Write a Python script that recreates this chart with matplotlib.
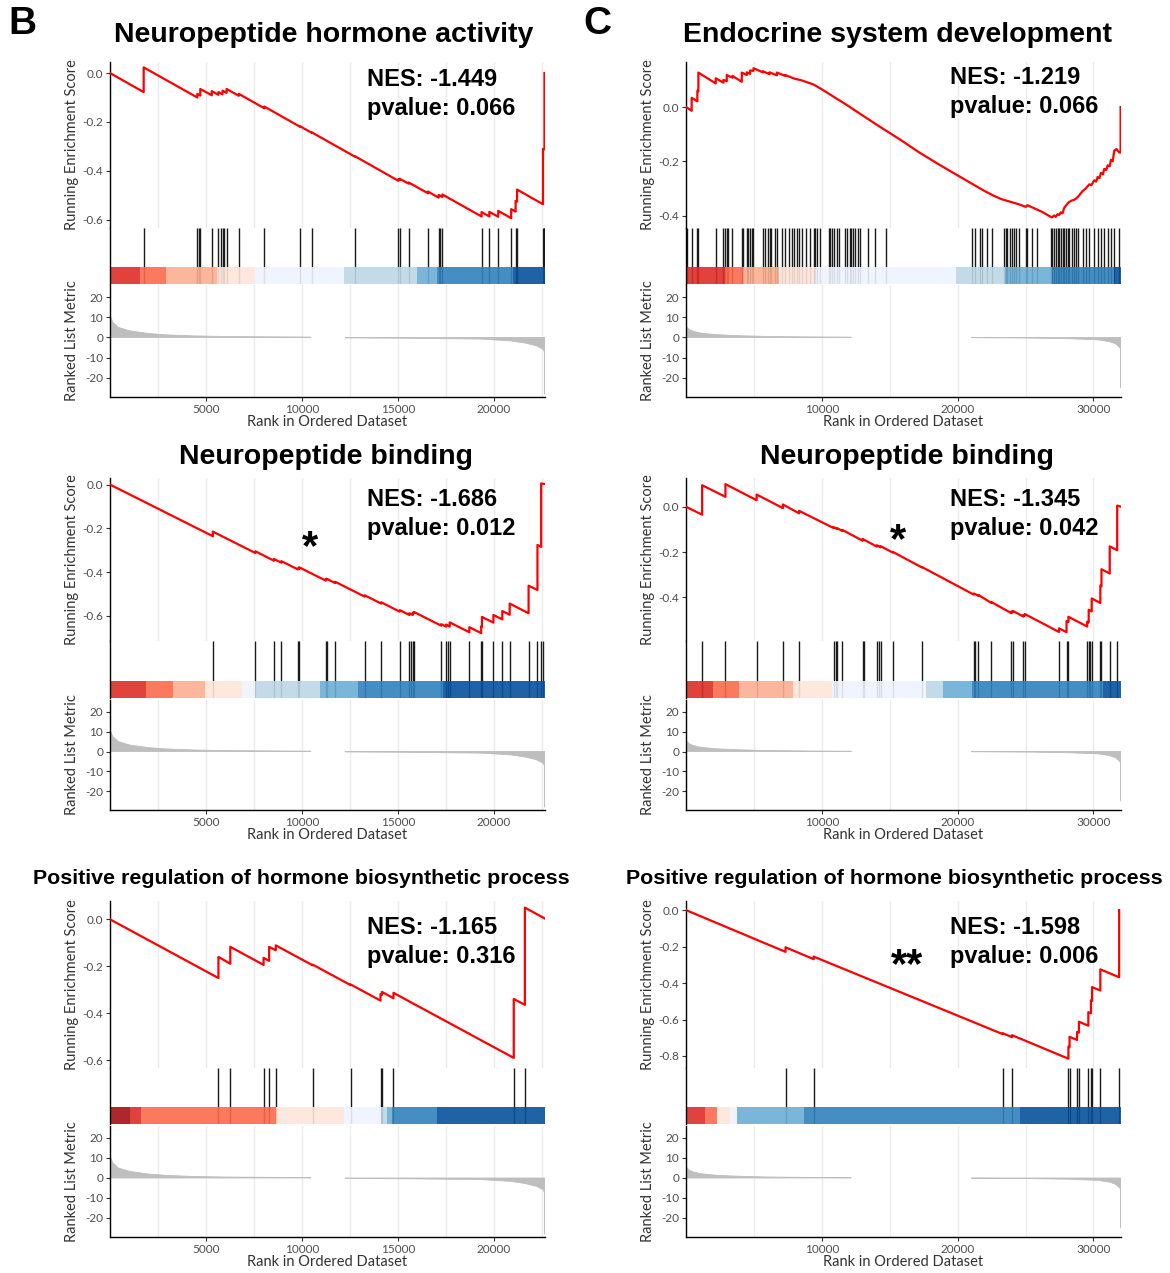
import numpy as np
import matplotlib
matplotlib.use("Agg")
import matplotlib.pyplot as plt
from matplotlib.ticker import MultipleLocator, FormatStrFormatter

plt.rcParams["axes.unicode_minus"] = False

# ---------------- values ----------------
N_LEFT = 22650     # length of ranked list, panel B
N_RIGHT = 32030    # length of ranked list, panel C

titles = ["Neuropeptide hormone activity", "Endocrine system development",
          "Neuropeptide binding", "Neuropeptide binding",
          "Positive regulation of hormone biosynthetic process",
          "Positive regulation of hormone biosynthetic process"]
nes = [-1.449, -1.219, -1.686, -1.345, -1.165, -1.598]
pvalues = [0.066, 0.066, 0.012, 0.042, 0.316, 0.006]
stars = ["", "", "*", "*", "", "**"]

# gene-set hit positions (rank)
hits_p1 = [1754, 4548, 4625, 4702, 5299, 5646, 5762, 5858, 5955, 6070, 6706, 8036,
           9886, 10522, 12738, 15011, 15088, 15551, 16553, 17112, 17189, 17305,
           19347, 19752, 20214, 20889, 21120, 21197, 22546, 22584, 22623]
hits_p2 = [98, 418, 836, 911, 2190, 2755, 2878, 3001, 3124, 3419, 4108, 4231, 4477,
           4600, 4723, 4846, 4969, 5658, 5830, 6002, 6150, 6248, 6568, 6691, 7060,
           7306, 7552, 7798, 7970, 8167, 8290, 8536, 8856, 9151, 9397, 9520, 9643,
           9889, 10504, 10627, 10750, 10873, 11119, 11242, 11685, 11857, 12054,
           12152, 12300, 12472, 12644, 12792, 13407, 13948, 14735,
           21082, 21254, 21648, 21820, 22140, 22558, 23419, 23542, 23665, 23862,
           23985, 24157, 24280, 24526, 25018, 25141, 25510, 25879, 26863, 26986,
           27109, 27232, 27355, 27478, 27601, 27724, 27847, 27970, 28093, 28216,
           28389, 28536, 28708, 28880, 29200, 29446, 29692, 30061, 30307, 30553,
           30799, 31045, 31291, 31537, 31906]
hits_p3 = [5357, 7573, 8537, 8922, 9789, 9847, 11234, 11273, 11716, 13258, 14125,
           15088, 15589, 15667, 15763, 15821, 17247, 17497, 17594, 17690, 18711,
           19328, 19367, 19964, 20426, 20812, 21795, 22257, 22450, 22527]
hits_p4 = [1189, 2904, 5200, 7136, 8326, 10870, 11009, 11147, 11507, 13000, 13083,
           14051, 14190, 14328, 15213, 17370, 21188, 21298, 21519, 22488, 23954,
           24064, 24839, 24949, 27466, 28020, 28158, 29541, 29651, 29762, 29873,
           30509, 30592, 31200, 31750]
hits_p5 = [5646, 6263, 7997, 8286, 8633, 10560, 12525, 14086, 14163, 14760, 21024, 21602]
hits_p6 = [7330, 9404, 23317, 24009, 28158, 28241, 28794, 28932, 29624, 29817, 29900,
           30509, 31892]

# running enrichment score, (rank, score) vertices
es_p1 = [(0, 0.0), (1754, -0.078), (1754, 0.023), (4548, -0.100), (4548, -0.085),
         (4702, -0.092), (4702, -0.065), (5299, -0.091), (5299, -0.074), (5646, -0.089),
         (5646, -0.078), (5858, -0.087), (5858, -0.072), (6070, -0.081), (6070, -0.065),
         (6706, -0.093), (6706, -0.085), (8036, -0.144), (8036, -0.137), (9886, -0.219),
         (9886, -0.217), (10522, -0.245), (10522, -0.243), (12738, -0.341), (12738, -0.339),
         (15011, -0.440), (15011, -0.434), (15088, -0.437), (15088, -0.432), (15551, -0.452),
         (15551, -0.447), (16553, -0.491), (16553, -0.484), (17112, -0.509), (17112, -0.498),
         (17305, -0.506), (17305, -0.496), (19347, -0.586), (19347, -0.568), (19752, -0.586),
         (19752, -0.567), (20214, -0.587), (20214, -0.563), (20889, -0.593), (20889, -0.556),
         (21120, -0.566), (21120, -0.522), (21197, -0.525), (21197, -0.476), (22546, -0.536),
         (22546, -0.310), (22623, -0.312), (22623, 0.0)]
es_p2 = [(0, 0.0), (418, -0.014), (418, 0.034), (836, 0.021), (836, 0.060), (911, 0.058),
         (911, 0.127), (2190, 0.087), (2190, 0.106), (2755, 0.090), (2755, 0.100),
         (3001, 0.095), (3001, 0.118), (3419, 0.108), (3419, 0.115), (4108, 0.093),
         (4108, 0.127), (4477, 0.118), (4477, 0.128), (4723, 0.122), (4723, 0.135),
         (4969, 0.133), (4969, 0.143), (5658, 0.128), (5658, 0.132), (6150, 0.121),
         (6150, 0.128), (6691, 0.117), (6691, 0.127), (7306, 0.115), (7306, 0.118),
         (7970, 0.105), (8536, 0.098), (9397, 0.083), (10012, 0.065), (10900, 0.037),
         (11857, 0.007), (13000, -0.031), (14317, -0.074), (15800, -0.121), (17100, -0.165),
         (18500, -0.208), (20100, -0.255), (21100, -0.284), (22000, -0.310), (22700, -0.328),
         (23246, -0.340), (24477, -0.358), (25018, -0.368), (25141, -0.362), (26199, -0.386),
         (26937, -0.407), (27109, -0.400), (27232, -0.405), (27355, -0.395), (27478, -0.398),
         (27601, -0.388), (27724, -0.392), (27847, -0.372), (28093, -0.356), (28216, -0.350),
         (28389, -0.345), (28536, -0.343), (28708, -0.338), (28880, -0.330), (29200, -0.310),
         (29446, -0.300), (29692, -0.285), (29850, -0.288), (30061, -0.270), (30200, -0.275),
         (30307, -0.258), (30450, -0.262), (30553, -0.243), (30700, -0.248), (30799, -0.228),
         (30950, -0.232), (31045, -0.215), (31200, -0.218), (31291, -0.195), (31420, -0.200),
         (31537, -0.160), (31700, -0.155), (31906, -0.168), (32000, -0.168), (32000, 0.0)]
es_p3 = [(0, 0.0), (5357, -0.236), (5357, -0.215), (7573, -0.313), (7573, -0.305),
         (8537, -0.348), (8537, -0.340), (8922, -0.357), (8922, -0.350), (9789, -0.388),
         (9789, -0.383), (9847, -0.386), (9847, -0.378), (11234, -0.439), (11234, -0.433),
         (11273, -0.435), (11273, -0.430), (11716, -0.450), (11716, -0.444), (13258, -0.512),
         (13258, -0.506), (14125, -0.544), (14125, -0.538), (15088, -0.581), (15088, -0.574),
         (15589, -0.596), (15589, -0.588), (15763, -0.596), (15763, -0.586), (15821, -0.589),
         (15821, -0.582), (17247, -0.645), (17247, -0.638), (17497, -0.649), (17497, -0.640),
         (17690, -0.649), (17690, -0.630), (18711, -0.675), (18711, -0.652), (19328, -0.679),
         (19328, -0.648), (19367, -0.650), (19367, -0.605), (19964, -0.631), (19964, -0.596),
         (20426, -0.616), (20426, -0.578), (20812, -0.595), (20812, -0.544), (21795, -0.588),
         (21795, -0.462), (22257, -0.482), (22257, -0.276), (22450, -0.285), (22450, 0.005),
         (22620, 0.003)]
es_p4 = [(0, 0.0), (1189, -0.035), (1189, 0.095), (2904, 0.044), (2904, 0.100),
         (5200, 0.029), (5200, 0.054), (7136, -0.006), (7136, 0.010), (8326, -0.029),
         (8326, -0.018), (10870, -0.094), (10870, -0.090), (11147, -0.099), (11147, -0.095),
         (11507, -0.107), (11507, -0.102), (13000, -0.150), (13000, -0.142), (14051, -0.176),
         (14051, -0.170), (14328, -0.179), (14328, -0.174), (15213, -0.202), (15213, -0.199),
         (17370, -0.268), (17370, -0.266), (21188, -0.388), (21188, -0.383), (21519, -0.393),
         (21519, -0.389), (22488, -0.425), (22488, -0.421), (23954, -0.470), (23954, -0.463),
         (24064, -0.466), (24064, -0.460), (24839, -0.485), (24839, -0.478), (24949, -0.481),
         (24949, -0.474), (27466, -0.553), (27466, -0.537), (28020, -0.554), (28020, -0.505),
         (28158, -0.509), (28158, -0.486), (29541, -0.529), (29541, -0.508), (29651, -0.511),
         (29651, -0.455), (29873, -0.462), (29873, -0.405), (30509, -0.425), (30509, -0.348),
         (30592, -0.351), (30592, -0.276), (31200, -0.295), (31200, -0.175), (31750, -0.192),
         (31750, 0.005), (32030, 0.0)]
es_p5 = [(0, 0.0), (5646, -0.250), (5646, -0.160), (6263, -0.189), (6263, -0.117),
         (7997, -0.194), (7997, -0.164), (8286, -0.177), (8286, -0.117), (8633, -0.132),
         (8633, -0.111), (10560, -0.196), (10560, -0.193), (12525, -0.280), (12525, -0.277),
         (14086, -0.346), (14086, -0.318), (14163, -0.321), (14163, -0.309), (14760, -0.336),
         (14760, -0.313), (21024, -0.590), (21024, -0.339), (21602, -0.364), (21602, 0.050),
         (22650, 0.003)]
es_p6 = [(0, 0.0), (7330, -0.229), (7330, -0.204), (9404, -0.269), (9404, -0.255),
         (23317, -0.680), (23317, -0.675), (24009, -0.697), (24009, -0.686), (28158, -0.815),
         (28158, -0.749), (28241, -0.752), (28241, -0.695), (28794, -0.712), (28794, -0.668),
         (28932, -0.672), (28932, -0.612), (29624, -0.634), (29624, -0.560), (29817, -0.566),
         (29817, -0.495), (29900, -0.498), (29900, -0.422), (30509, -0.441), (30509, -0.325),
         (31892, -0.368), (31892, 0.0)]

# colour strip: segment start ranks and palette bin of each segment
cbar_edges_p1 = [0, 1561, 2910, 5550, 7573, 12159, 15994, 17016, 20966]
cbar_bins_p1 = [1, 2, 3, 4, 5, 6, 7, 8, 9]
cbar_edges_p2 = [0, 2878, 4231, 6852, 9520, 19852, 23493, 26986, 31537]
cbar_bins_p2 = [1, 2, 3, 4, 5, 6, 7, 8, 9]
cbar_edges_p3 = [0, 1888, 3295, 4933, 6860, 7573, 10945, 12930, 17343]
cbar_bins_p3 = [1, 2, 3, 4, 5, 6, 7, 8, 9]
cbar_edges_p4 = [0, 2019, 3900, 7883, 10732, 17647, 18892, 21049, 30730]
cbar_bins_p4 = [1, 2, 3, 4, 5, 6, 7, 8, 9]
cbar_edges_p5 = [0, 1060, 1638, 8633, 12159, 14086, 14414, 14703, 17016]
cbar_bins_p5 = [0, 1, 2, 4, 5, 6, 7, 8, 9]
cbar_edges_p6 = [0, 1383, 2296, 3209, 3762, 8658, 24617]
cbar_bins_p6 = [1, 2, 4, 5, 7, 8, 9]

# ranked list metric, (rank, value); nan = part too thin to show
metric_left = [(0, 11.0), (150, 7.5), (440, 5.0), (1020, 3.3), (1985, 2.0), (2950, 1.3),
               (4300, 0.8), (5840, 0.5), (8730, 0.3), (10460, 0.2), (11300, np.nan),
               (12250, -0.2), (15470, -0.4), (19330, -0.8), (20870, -1.7), (21640, -2.8),
               (22220, -4.2), (22570, -6.0), (22630, -7.5), (22640, -28.0), (22650, -28.0)]
metric_right = [(0, 5.7), (220, 4.0), (500, 3.1), (1050, 2.2), (2160, 1.4), (3820, 0.9),
                (6030, 0.5), (8800, 0.3), (12170, 0.15), (16000, np.nan), (21020, -0.1),
                (25390, -0.3), (28160, -0.6), (30370, -1.2), (31200, -2.1), (31620, -3.1),
                (31890, -4.7), (32000, -5.5), (32020, -25.0), (32030, -25.0)]

# ---------------- layout (pixels) and style ----------------
W, H = 1170, 1273
PALETTE = ["#A50F15", "#DE2D26", "#FB6A4A", "#FCAE91", "#FEE5D9",
           "#EFF3FF", "#BDD7E7", "#6BAED6", "#3182BD", "#08519C"]
COL_X = [(110, 545), (686, 1121)]
ROWS = [((62, 228), (228, 284), (285, 397)),
        ((478, 641), (641, 698), (700, 810)),
        ((901, 1068), (1068, 1124), (1126, 1237))]
ES_YLIM = [(-0.633, 0.045), (-0.446, 0.166), (-0.715, 0.03),
           (-0.593, 0.127), (-0.633, 0.078), (-0.866, 0.05)]
TITLE_XY = [(324, 35), (897, 35), (326, 457), (907, 457), (301, 878), (894, 878)]
TITLE_SIZE = [20.5, 20.5, 20.5, 20.5, 15.4, 15.4]
NES_XY = [(367, 80), (950, 77), (367, 500), (950, 500), (367, 927), (950, 927)]
STAR_XY = [None, None, (310, 548), (898, 541), None, (907, 966)]
YLAB_X = [72, 648]
BOLD = "Liberation Sans"
THIN = "Lato"
GRID = "#EBEBEB"


def axes_px(fig, x0, y0, x1, y1):
    return fig.add_axes([x0 / W, 1 - y1 / H, (x1 - x0) / W, (y1 - y0) / H])


def text_px(fig, x, y, s, **kw):
    fig.text(x / W, 1 - y / H, s, **kw)


def draw_panel(fig, k, hits, es, edges, bins, metric, n):
    col, row = k % 2, k // 2
    x0, x1 = COL_X[col]
    (e0, e1), (h0, h1), (m0, m1) = ROWS[row]
    grid_step = 2500 if col == 0 else 5000
    label_step = 5000 if col == 0 else 10000

    # running enrichment score
    ax = axes_px(fig, x0, e0, x1, e1)
    r, s = zip(*es)
    ax.plot(r, s, color="#FF0000", lw=1.6, zorder=3)
    ax.set_xlim(0, n)
    ax.set_ylim(*ES_YLIM[k])
    ax.xaxis.set_major_locator(MultipleLocator(grid_step))
    ax.grid(axis="x", color=GRID, lw=1.0, zorder=0)
    ax.tick_params(axis="x", length=0, labelbottom=False)
    ax.yaxis.set_major_locator(MultipleLocator(0.2))
    ax.yaxis.set_major_formatter(FormatStrFormatter("%.1f"))
    ax.tick_params(axis="y", length=3, width=0.8, color="#333333", pad=2,
                   labelsize=8.5, labelcolor="#4D4D4D", labelfontfamily=THIN)
    for sp in ("top", "right", "bottom"):
        ax.spines[sp].set_visible(False)
    ax.spines["left"].set_linewidth(1.0)

    # hits and colour strip
    axh = axes_px(fig, x0, h0, x1, h1)
    axh.vlines(hits, 0, 1, color="#1A1A1A", lw=1.0, zorder=1)
    ends = list(edges[1:]) + [n]
    axh.broken_barh([(a, b - a) for a, b in zip(edges, ends)], (0, 0.3),
                    facecolors=[PALETTE[b] for b in bins], alpha=0.9, zorder=2)
    axh.set_xlim(0, n)
    axh.set_ylim(0, 1)
    axh.set_xticks([])
    axh.set_yticks([])
    for sp in ("top", "right", "bottom"):
        axh.spines[sp].set_visible(False)
    axh.spines["left"].set_linewidth(1.0)

    # ranked list metric
    axm = axes_px(fig, x0, m0, x1, m1)
    mr, mv = zip(*metric)
    axm.fill_between(mr, mv, 0, color="#BEBEBE", edgecolor="#BEBEBE", lw=0.6, zorder=2)
    axm.set_xlim(0, n)
    axm.set_ylim(-29.5, 26)
    axm.xaxis.set_minor_locator(MultipleLocator(grid_step))
    axm.set_xticks(np.arange(label_step, n, label_step))
    axm.grid(axis="x", which="both", color=GRID, lw=1.0, zorder=0)
    axm.set_yticks([-20, -10, 0, 10, 20])
    axm.tick_params(which="minor", length=0)
    axm.tick_params(which="major", length=3, width=0.8, color="#333333", pad=2,
                    labelsize=8.5, labelcolor="#4D4D4D", labelfontfamily=THIN)
    for sp in ("top", "right"):
        axm.spines[sp].set_visible(False)
    for sp in ("left", "bottom"):
        axm.spines[sp].set_linewidth(1.0)

    # texts
    tx, ty = TITLE_XY[k]
    text_px(fig, tx, ty, titles[k], ha="center", va="center", family=BOLD,
            weight="bold", fontsize=TITLE_SIZE[k])
    nx, ny = NES_XY[k]
    text_px(fig, nx, ny, f"NES: {nes[k]:.3f}", ha="left", va="center",
            family=BOLD, weight="bold", fontsize=17)
    text_px(fig, nx, ny + 29, f"pvalue: {pvalues[k]:.3f}", ha="left", va="center",
            family=BOLD, weight="bold", fontsize=17)
    if stars[k]:
        sx, sy = STAR_XY[k]
        text_px(fig, sx, sy, stars[k], ha="center", va="center", family=BOLD,
                weight="bold", fontsize=30)
    yl = YLAB_X[col]
    text_px(fig, yl, (e0 + e1) / 2, "Running Enrichment Score", rotation=90,
            ha="center", va="center", family=THIN, fontsize=10.5, color="#333333")
    text_px(fig, yl, (m0 + m1) / 2, "Ranked List Metric", rotation=90,
            ha="center", va="center", family=THIN, fontsize=10.5, color="#333333")
    text_px(fig, (x0 + x1) / 2, m1 + 25, "Rank in Ordered Dataset", ha="center",
            va="center", family=THIN, fontsize=10.5, color="#333333")


fig = plt.figure(figsize=(W / 100, H / 100), dpi=100)

panels = [
    (hits_p1, es_p1, cbar_edges_p1, cbar_bins_p1, metric_left, N_LEFT),
    (hits_p2, es_p2, cbar_edges_p2, cbar_bins_p2, metric_right, N_RIGHT),
    (hits_p3, es_p3, cbar_edges_p3, cbar_bins_p3, metric_left, N_LEFT),
    (hits_p4, es_p4, cbar_edges_p4, cbar_bins_p4, metric_right, N_RIGHT),
    (hits_p5, es_p5, cbar_edges_p5, cbar_bins_p5, metric_left, N_LEFT),
    (hits_p6, es_p6, cbar_edges_p6, cbar_bins_p6, metric_right, N_RIGHT),
]
for k, p in enumerate(panels):
    draw_panel(fig, k, *p)

text_px(fig, 22, 24, "B", ha="center", va="center", family=BOLD, weight="bold", fontsize=28)
text_px(fig, 597, 24, "C", ha="center", va="center", family=BOLD, weight="bold", fontsize=28)

fig.savefig("out.png", dpi=100)
